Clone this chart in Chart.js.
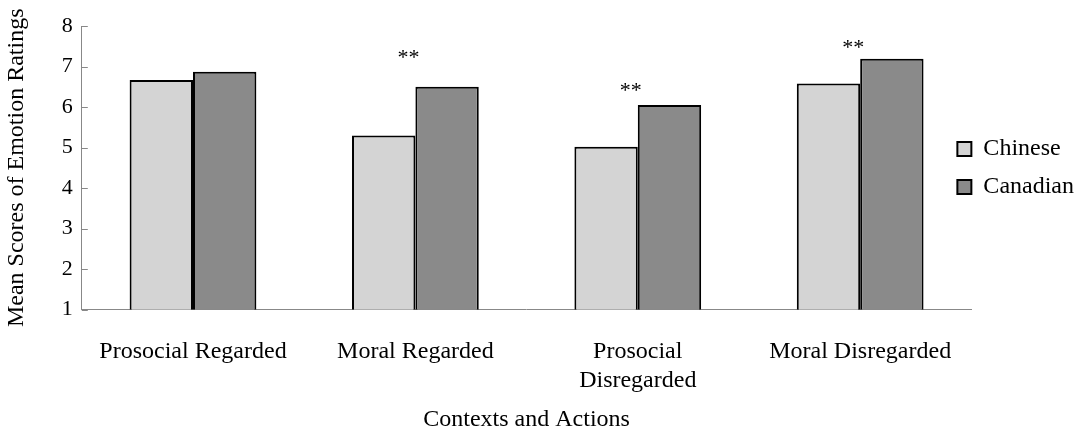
<!DOCTYPE html>
<html>
<head>
<meta charset="utf-8">
<script src="https://cdn.jsdelivr.net/npm/chart.js@4"></script>
<style>
  body { margin: 0; background: #fff; }
</style>
</head>
<body>
<canvas id="emotionChart" width="1086" height="434"></canvas>
<script>
// categories and series
const contexts = ["Prosocial Regarded", "Moral Regarded", ["Prosocial", "Disregarded"], "Moral Disregarded"];
const chinese = [6.67, 5.3, 5.02, 6.58];
const canadian = [6.87, 6.5, 6.05, 7.19];
// significance marks and the value where they sit
const sigMarks = ["", "**", "**", "**"];
const sigAt = [null, 7.3, 6.5, 7.55];
const yTicks = [1, 2, 3, 4, 5, 6, 7, 8];

const serif = "'Liberation Serif', 'Times New Roman', serif";

// asterisks over the pairs, inward y tick marks, legend nudged up-left
const extras = {
  id: "extras",
  afterLayout(chart) {
    const lg = chart.legend;
    lg.left -= 28;
    lg.right -= 28;
    lg.top -= 62;
    lg.bottom -= 62;
  },
  afterDatasetsDraw(chart) {
    const c = chart.ctx;
    const x = chart.scales.x;
    const y = chart.scales.y;
    c.save();
    c.fillStyle = "#000";
    c.font = "22px " + serif;
    c.textAlign = "center";
    c.textBaseline = "middle";
    sigMarks.forEach(function (m, i) {
      if (!m) return;
      c.fillText(m, x.getPixelForValue(i) - 7, y.getPixelForValue(sigAt[i]) + 4);
    });
    c.strokeStyle = "#888";
    c.lineWidth = 1;
    yTicks.forEach(function (t) {
      const py = Math.round(y.getPixelForValue(t)) + 0.5;
      c.beginPath();
      c.moveTo(x.left, py);
      c.lineTo(x.left + 6, py);
      c.stroke();
    });
    c.restore();
  },
};

const ctx = document.getElementById("emotionChart").getContext("2d");
new Chart(ctx, {
  type: "bar",
  data: {
    labels: contexts,
    datasets: [
      {
        label: "Chinese",
        data: chinese,
        backgroundColor: "#d4d4d4",
        borderColor: "#000",
        borderWidth: 2,
      },
      {
        label: "Canadian",
        data: canadian,
        backgroundColor: "#8a8a8a",
        borderColor: "#000",
        borderWidth: 2,
      },
    ],
  },
  options: {
    responsive: false,
    animation: false,
    devicePixelRatio: 1,
    layout: { padding: { top: 26, right: -26, left: 2, bottom: 0 } },
    datasets: {
      bar: { categoryPercentage: 0.57, barPercentage: 1.0, borderSkipped: "bottom" },
    },
    scales: {
      x: {
        grid: { display: false, drawTicks: false },
        border: { color: "#888", width: 1 },
        ticks: { color: "#000", font: { family: serif, size: 24 }, padding: 28, maxRotation: 0 },
        title: {
          display: true,
          text: "Contexts and Actions",
          color: "#000",
          font: { family: serif, size: 24 },
          padding: { top: -18, bottom: 0 },
        },
      },
      y: {
        min: 1,
        max: 8,
        afterBuildTicks(axis) {
          axis.ticks = yTicks.map(function (v) { return { value: v }; });
        },
        grid: { display: false, drawTicks: false },
        border: { color: "#888", width: 1 },
        ticks: { color: "#000", font: { family: serif, size: 22 }, padding: 9 },
        title: {
          display: true,
          text: "Mean Scores of Emotion Ratings",
          color: "#000",
          font: { family: serif, size: 24 },
          padding: { top: 0, bottom: 22 },
        },
      },
    },
    plugins: {
      legend: {
        position: "right",
        labels: {
          color: "#000",
          font: { family: serif, size: 24 },
          boxWidth: 14,
          boxHeight: 14,
          padding: 14,
        },
      },
      tooltip: { enabled: false },
    },
  },
  plugins: [extras],
});
</script>
</body>
</html>
